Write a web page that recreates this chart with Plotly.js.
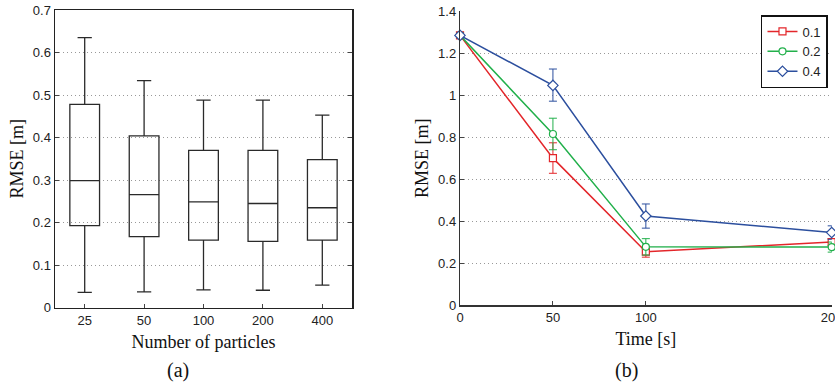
<!DOCTYPE html>
<html>
<head>
<meta charset="utf-8">
<script src="https://cdn.plot.ly/plotly-3.0.1.min.js"></script>
<style>html,body{margin:0;padding:0;background:#fff;}#chart{width:835px;height:385px;}</style>
</head>
<body>
<div id="chart"></div>
<script>
// (a) Box plot: RMSE vs number of particles
const particleLabels = ['25', '50', '100', '200', '400'];
const boxUpper  = [0.635, 0.534, 0.488, 0.488, 0.453];
const boxQ3     = [0.478, 0.404, 0.370, 0.370, 0.348];
const boxMedian = [0.299, 0.266, 0.249, 0.245, 0.235];
const boxQ1     = [0.193, 0.167, 0.159, 0.156, 0.159];
const boxLower  = [0.036, 0.037, 0.042, 0.041, 0.053];

// (b) RMSE vs time for three settings
const timeVals = [0, 50, 100, 200];
const timeTicks = [0, 50, 100, 200];
const seriesNames = ['0.1', '0.2', '0.4'];
const rmse01 = [1.284, 0.700, 0.255, 0.301];
const rmse02 = [1.284, 0.815, 0.278, 0.277];
const rmse04 = [1.284, 1.046, 0.425, 0.346];
const errUp01 = [0.010, 0.073, 0.025, 0.016];
const errDn01 = [0.010, 0.072, 0.026, 0.016];
const errUp02 = [0.010, 0.075, 0.039, 0.024];
const errDn02 = [0.010, 0.075, 0.039, 0.024];
const errUp04 = [0.010, 0.078, 0.057, 0.032];
const errDn04 = [0.010, 0.075, 0.058, 0.032];

const colors = ['#e3262a', '#22b04b', '#2c4f9e'];
const symbols = ['square', 'circle', 'diamond'];
const ys = [rmse01, rmse02, rmse04];
const ups = [errUp01, errUp02, errUp04];
const dns = [errDn01, errDn02, errDn04];

const traces = [{
  type: 'box',
  x: particleLabels,
  q1: boxQ1, median: boxMedian, q3: boxQ3,
  lowerfence: boxLower, upperfence: boxUpper,
  boxpoints: false,
  width: 0.5,
  whiskerwidth: 0.48,
  fillcolor: 'rgba(0,0,0,0)',
  line: {color: '#2a2a2a', width: 1.3},
  xaxis: 'x', yaxis: 'y',
  showlegend: false,
  hoverinfo: 'skip'
}];

for (let i = 0; i < 3; i++) {
  traces.push({
    type: 'scatter', mode: 'lines+markers',
    name: seriesNames[i],
    x: timeVals, y: ys[i],
    xaxis: 'x2', yaxis: 'y2',
    line: {color: colors[i], width: 1.5},
    marker: {symbol: symbols[i], size: i === 2 ? 8 : 7, color: '#fff', line: {color: colors[i], width: 1.2}},
    error_y: {type: 'data', symmetric: false, array: ups[i], arrayminus: dns[i],
              color: colors[i], thickness: 1, width: 4},
    cliponaxis: false
  });
}

const tickFont = {family: 'Liberation Sans, Arial, sans-serif', size: 13, color: '#222'};
const titleFont = {family: 'Liberation Serif, Times New Roman, serif', size: 18, color: '#111'};
const gridCol = '#999';
const gridDash = '1px,3px';

const layout = {
  width: 835, height: 385,
  margin: {l: 0, r: 0, t: 0, b: 0},
  paper_bgcolor: '#fff', plot_bgcolor: '#fff',
  showlegend: true,
  legend: {
    x: 0.9916, y: 0.961, xanchor: 'right', yanchor: 'top',
    bgcolor: '#fff', bordercolor: '#111', borderwidth: 1.5,
    font: {family: 'Liberation Sans, Arial, sans-serif', size: 13, color: '#222'},
    tracegroupgap: 0, itemwidth: 30
  },
  xaxis: {
    domain: [55/835, 352/835], anchor: 'y',
    type: 'category', range: [-0.5, 4.5],
    showline: true, linecolor: '#222', linewidth: 1.5, mirror: true,
    ticks: 'inside', ticklen: 4, tickcolor: '#444',
    showgrid: false, zeroline: false,
    tickfont: tickFont,
    title: {text: 'Number of particles', font: titleFont, standoff: 8}
  },
  yaxis: {
    domain: [(385-307.7)/385, (385-10)/385], anchor: 'x',
    range: [0, 0.7], dtick: 0.1, tick0: 0,
    showline: true, linecolor: '#222', linewidth: 1.5, mirror: 'ticks',
    ticks: 'inside', ticklen: 4, tickcolor: '#444',
    showgrid: true, gridcolor: gridCol, griddash: gridDash, gridwidth: 1,
    zeroline: false,
    tickfont: tickFont,
    title: {text: 'RMSE [m]', font: titleFont, standoff: 4}
  },
  xaxis2: {
    domain: [460/835, 831.7/835], anchor: 'y2',
    range: [0, 200], tickvals: timeTicks,
    showline: true, linecolor: '#333', linewidth: 1.2,
    ticks: 'inside', ticklen: 4, tickcolor: '#444',
    showgrid: false, zeroline: false,
    ticklabeloverflow: 'allow',
    tickfont: tickFont,
    title: {text: 'Time [s]', font: titleFont, standoff: 8}
  },
  yaxis2: {
    domain: [(385-305.3)/385, (385-11)/385], anchor: 'x2',
    range: [0, 1.4], dtick: 0.2, tick0: 0,
    showline: true, linecolor: '#333', linewidth: 1.2,
    ticks: 'inside', ticklen: 4, tickcolor: '#444',
    showgrid: true, gridcolor: gridCol, griddash: gridDash, gridwidth: 1,
    zeroline: false,
    tickfont: tickFont,
    title: {text: 'RMSE [m]', font: titleFont, standoff: 4}
  },
  annotations: [
    {text: '(a)', xref: 'paper', yref: 'paper', x: 178/835, y: 1 - 370/385,
     xanchor: 'center', yanchor: 'middle', showarrow: false,
     font: {family: 'Liberation Serif, Times New Roman, serif', size: 20, color: '#111'}},
    {text: '(b)', xref: 'paper', yref: 'paper', x: 626/835, y: 1 - 370/385,
     xanchor: 'center', yanchor: 'middle', showarrow: false,
     font: {family: 'Liberation Serif, Times New Roman, serif', size: 20, color: '#111'}}
  ]
};

Plotly.newPlot('chart', traces, layout, {staticPlot: true, displayModeBar: false});
</script>
</body>
</html>
